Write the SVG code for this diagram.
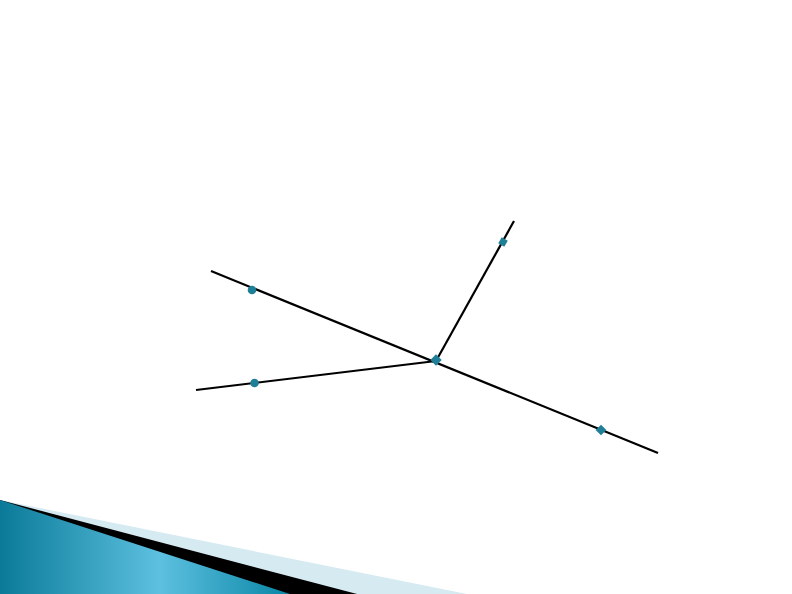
<svg xmlns="http://www.w3.org/2000/svg" width="792" height="594" viewBox="0 0 792 594">
<defs>
<style>
.ln{stroke:#000;stroke-width:2.2;fill:none}
.pt{fill:#1f7f97}
</style>
<linearGradient id="blueg" x1="0" y1="0" x2="290" y2="0" gradientUnits="userSpaceOnUse">
<stop offset="0" stop-color="#0a7a98"/>
<stop offset="0.55" stop-color="#5dc0e0"/>
<stop offset="1" stop-color="#0a86a6"/>
</linearGradient>
</defs>
<rect width="792" height="594" fill="#fff"/>
<g id="decoration">
<polygon points="0,500 467,594 0,594" fill="#d6eaf2"/>
<polygon points="0,500 357,594 0,594" fill="#000"/>
<polygon points="0,500 290,594 0,594" fill="url(#blueg)"/>
</g>
<g id="connectors">
<line class="ln" x1="211" y1="271" x2="658" y2="453"/>
<line class="ln" x1="196" y1="390" x2="436" y2="361"/>
<line class="ln" x1="436" y1="361" x2="514" y2="221"/>
</g>
<g id="node-center"><rect class="pt" x="-4" y="-4" width="8" height="8" transform="translate(436,360) rotate(45)"/></g>
<g id="node-top"><rect class="pt" x="-3.5" y="-3.5" width="7" height="7" transform="translate(503,242) rotate(30)"/></g>
<g id="node-left-top"><circle class="pt" cx="252" cy="290" r="4.3"/></g>
<g id="node-left-bottom"><circle class="pt" cx="254.5" cy="383" r="4.3"/></g>
<g id="node-right"><rect class="pt" x="-3.8" y="-3.8" width="7.6" height="7.6" transform="translate(601,430) rotate(45)"/></g>
</svg>
